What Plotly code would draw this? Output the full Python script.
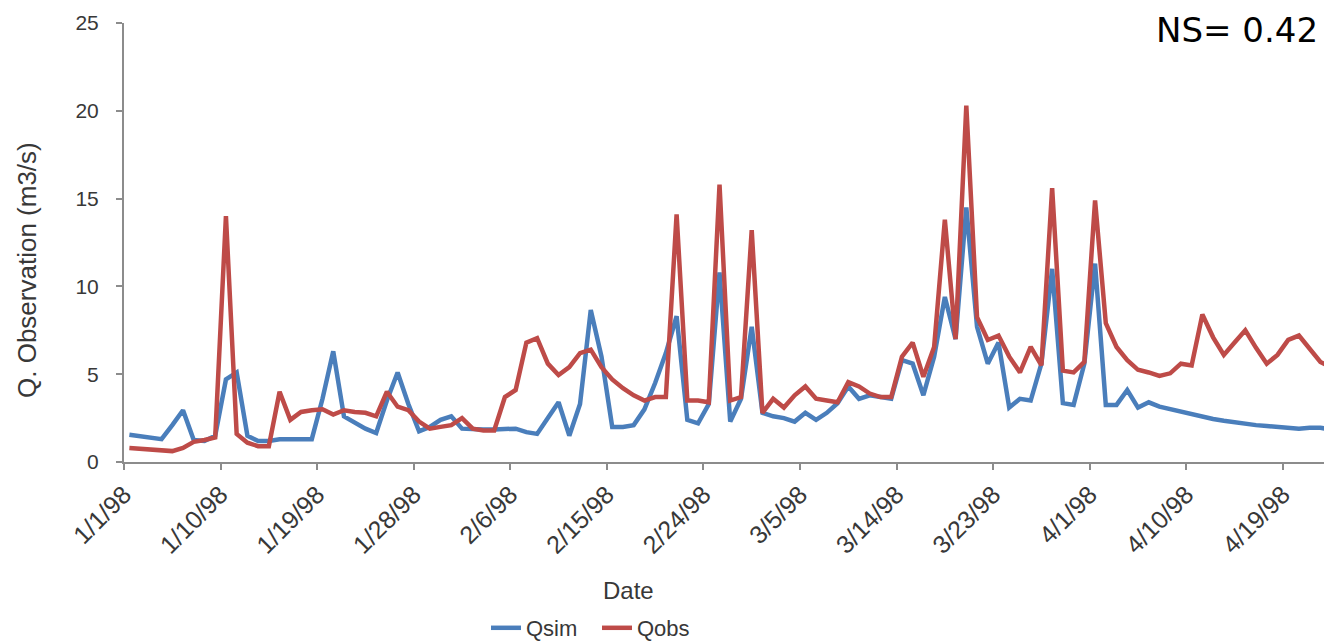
import pandas as pd
import plotly.graph_objects as go

start_date = "1998-01-01"

qsim = [1.55, 1.45, 1.35, 1.3, 2.1, 2.95, 1.25, 1.2, 1.5, 4.7,
        5.1, 1.5, 1.2, 1.2, 1.3, 1.3, 1.3, 1.3, 3.6, 6.3,
        2.6, 2.25, 1.9, 1.65, 3.5, 5.1, 3.3, 1.75, 2.0, 2.4,
        2.6, 1.9, 1.85, 1.85, 1.85, 1.85, 1.9, 1.7, 1.6, 2.5,
        3.4, 1.5, 3.3, 8.65, 6.0, 2.0, 2.0, 2.1, 3.0, 4.5,
        6.2, 8.3, 2.4, 2.2, 3.3, 10.8, 2.3, 3.6, 7.7, 2.8,
        2.6, 2.5, 2.3, 2.8, 2.4, 2.8, 3.35, 4.3, 3.6, 3.8,
        3.7, 3.6, 5.8, 5.6, 3.8, 6.0, 9.4, 7.0, 14.5, 7.7,
        5.6, 6.8, 3.1, 3.6, 3.5, 5.6, 11.0, 3.35, 3.25, 5.6,
        11.3, 3.25, 3.25, 4.1, 3.1, 3.4, 3.15, 3.0, 2.85, 2.7,
        2.6, 2.45, 2.35, 2.25, 2.15, 2.1, 2.05, 2.0, 1.95, 1.9,
        1.95, 1.95, 1.85]

qobs = [0.8, 0.75, 0.68, 0.62, 0.62, 0.8, 1.15, 1.25, 1.4, 14.0,
        1.6, 1.1, 0.9, 0.9, 4.0, 2.4, 2.85, 2.95, 3.0, 2.7,
        2.95, 2.85, 2.8, 2.6, 4.0, 3.15, 2.95, 2.3, 1.9, 2.0,
        2.1, 2.5, 1.9, 1.8, 1.8, 3.7, 4.1, 6.8, 7.05, 5.6,
        4.95, 5.4, 6.2, 6.4, 5.4, 4.7, 4.2, 3.8, 3.5, 3.7,
        3.7, 14.1, 3.5, 3.5, 3.4, 15.8, 3.5, 3.7, 13.2, 2.8,
        3.6, 3.1, 3.8, 4.3, 3.6, 3.5, 3.4, 4.55, 4.3, 3.9,
        3.7, 3.7, 6.0, 6.8, 4.85, 6.55, 13.8, 7.0, 20.3, 8.25,
        6.95, 7.2, 6.0, 5.1, 6.55, 5.5, 15.6, 5.2, 5.1, 5.7,
        14.9, 7.9, 6.55, 5.8, 5.25, 5.1, 4.9, 5.05, 5.6, 5.5,
        8.4, 7.1, 6.1, 6.8, 7.5, 6.5, 5.6, 6.1, 6.95, 7.2,
        6.4, 5.7, 5.4]

tick_labels = ["1/1/98", "1/10/98", "1/19/98", "1/28/98", "2/6/98", "2/15/98",
               "2/24/98", "3/5/98", "3/14/98", "3/23/98", "4/1/98", "4/10/98",
               "4/19/98"]
y_ticks = [0, 5, 10, 15, 20, 25]
x_title = "Date"
y_title = "Q. Observation (m3/s)"
ns_text = "NS= 0.42"

dates = pd.date_range(start_date, periods=len(qobs), freq="D")
# Excel-style "between tick marks": each date's tick sits half a day before its point
tick_dates = [pd.Timestamp(start_date) + pd.Timedelta(days=9 * i) - pd.Timedelta(hours=12)
              for i in range(len(tick_labels))]

BLUE = "#4A7EBB"
RED = "#BE4B48"
AXIS = "#8C8C8C"
TXT = "#383838"
FONT = "Liberation Sans, Arial, sans-serif"

# page has an 8px body margin; figure is offset by it
OFF = 8
L, R, T, B = 116, 0, 15, 190
W, H = 1332, 644
PW, PH = W - L - R, H - T - B
PX_PER_DAY = 10.73
PLOT_LEFT, PLOT_BOTTOM = L + OFF, H - B + OFF   # page pixels


def px_x(page_x):
    return (page_x - PLOT_LEFT) / PW


def px_y(page_y):
    return (PLOT_BOTTOM - page_y) / PH


x_start = pd.Timestamp(start_date) - pd.Timedelta(hours=12)
x_end = x_start + pd.Timedelta(days=PW / PX_PER_DAY)

fig = go.Figure()
fig.add_trace(go.Scatter(x=dates, y=qsim, mode="lines", name="Qsim",
                         line=dict(color=BLUE, width=4.5)))
fig.add_trace(go.Scatter(x=dates, y=qobs, mode="lines", name="Qobs",
                         line=dict(color=RED, width=4.5)))

fig.update_layout(
    width=W, height=H,
    margin=dict(l=L, r=R, t=T, b=B),
    paper_bgcolor="white", plot_bgcolor="white",
    font=dict(family=FONT, color=TXT, size=20),
    showlegend=True,
    legend=dict(orientation="h", x=px_x(597), xanchor="center",
                y=px_y(628), yanchor="middle",
                entrywidth=66, entrywidthmode="pixels",
                font=dict(size=22, color=TXT), traceorder="normal"),
    xaxis=dict(
        range=[x_start, x_end], automargin=False,
        tickmode="array", tickvals=tick_dates, ticktext=tick_labels,
        tickangle=-45, ticks="outside", ticklen=6, tickcolor=AXIS, tickwidth=1.5,
        showline=True, linecolor=AXIS, linewidth=2, showgrid=False, zeroline=False,
        tickfont=dict(size=25, color=TXT),
    ),
    yaxis=dict(
        range=[0, 25], tickmode="array", tickvals=y_ticks, automargin=False,
        ticks="outside", ticklen=6, tickcolor=AXIS, tickwidth=1.5,
        showline=True, linecolor=AXIS, linewidth=2, showgrid=False, zeroline=False,
        tickfont=dict(size=21, color=TXT), ticklabelstandoff=13,
    ),
)

fig.add_annotation(text=x_title, xref="paper", yref="paper",
                   x=px_x(628), y=px_y(590), xanchor="center", yanchor="middle",
                   showarrow=False, font=dict(size=24, color=TXT))
fig.add_annotation(text=y_title, xref="paper", yref="paper", textangle=-90,
                   x=px_x(27), y=px_y(270), xanchor="center", yanchor="middle",
                   borderpad=0,
                   showarrow=False, font=dict(size=26, color=TXT))
fig.add_annotation(text=ns_text, xref="paper", yref="paper",
                   x=px_x(1320), xanchor="right",
                   y=1 + T / PH, yanchor="top",
                   showarrow=False, font=dict(size=34, color="black",
                                              family="DejaVu Sans, sans-serif"))

fig.write_html("out.html")
